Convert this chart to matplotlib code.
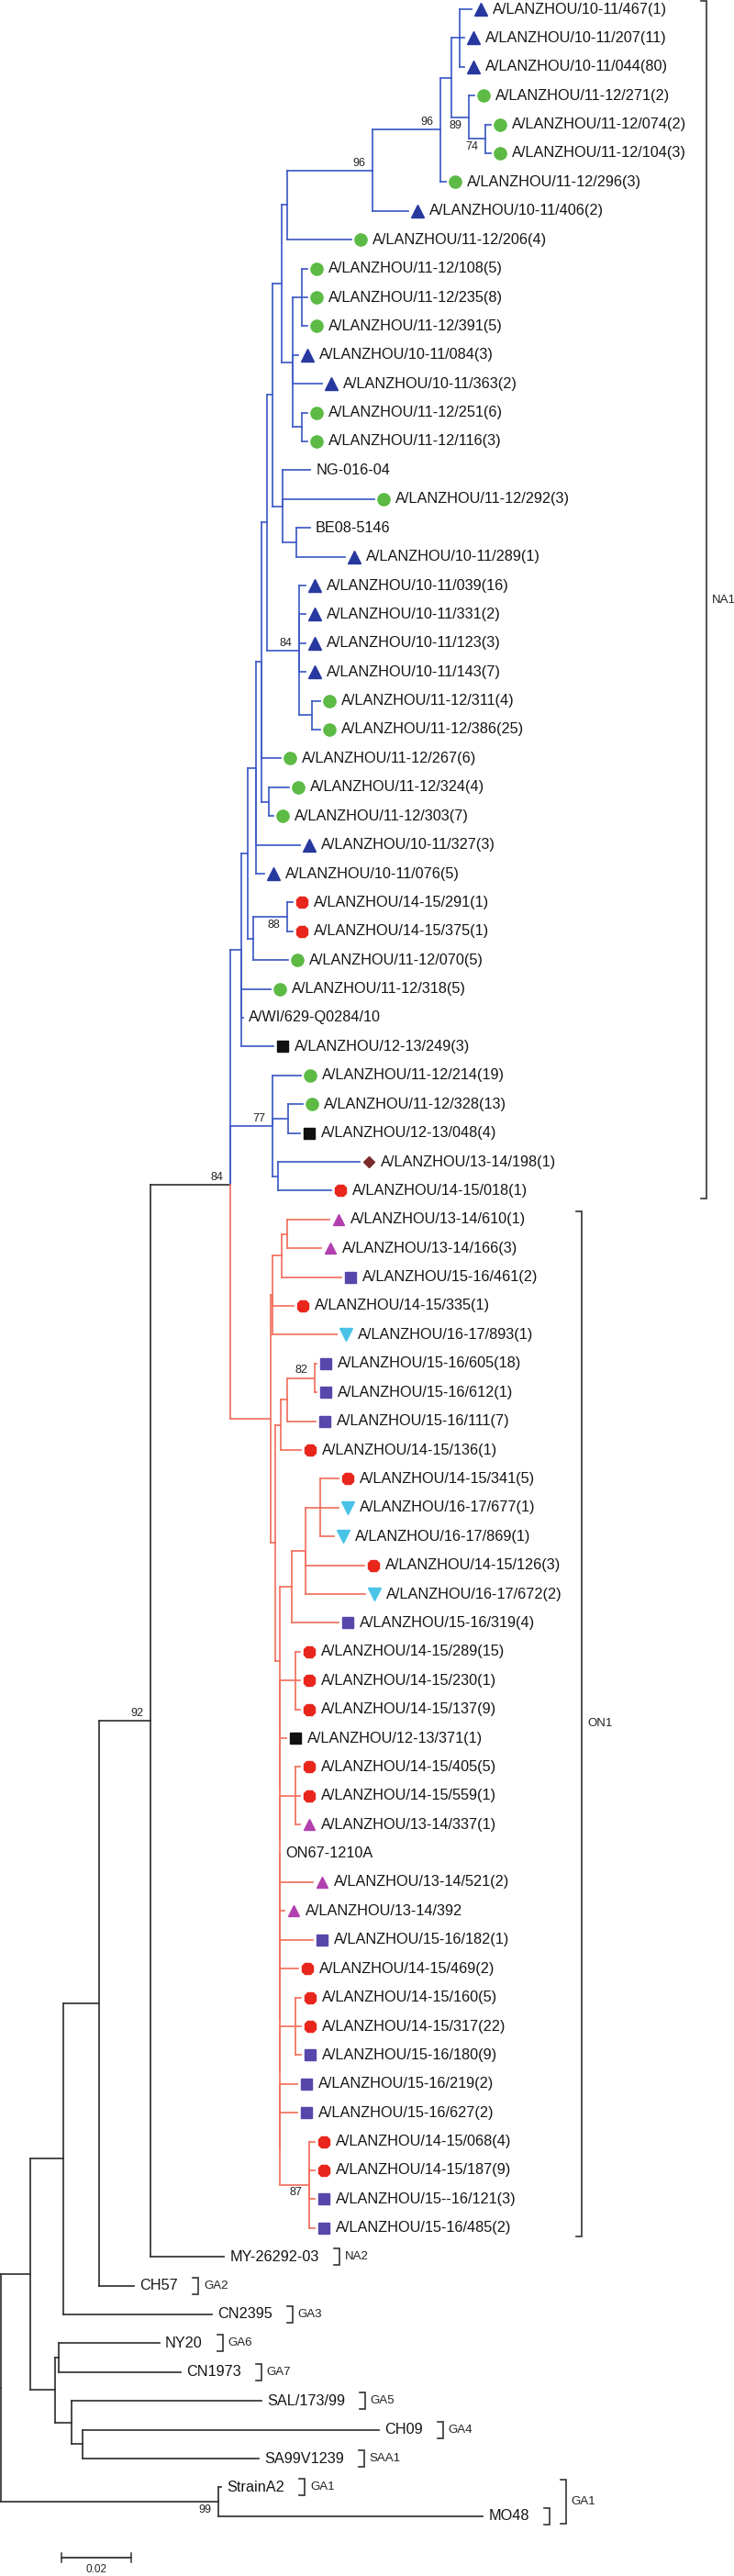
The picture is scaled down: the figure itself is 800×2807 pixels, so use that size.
import re
import matplotlib
matplotlib.use("Agg")
import matplotlib.pyplot as plt
from matplotlib import font_manager
from matplotlib.collections import LineCollection

# ------------------------------------------------------------------
# Tree (branch lengths in substitutions/site), leaves t1..t88 top->bottom
# ------------------------------------------------------------------
NA1_MAIN = (
    "((((((((((("
    "(t1:0.0034,t2:0.0013,t3:0.0013):0.0024,"
    "(t4:0.0016,(t5:0.0016,t6:0.0016)74:0.0047)89:0.0050):0.0032"
    ",t7:0.0016)96:0.0195"
    ",t8:0.0103)96:0.0245"
    ",t9:0.0184):0.0016,"
    "((t10:0.0016,t11:0.0016,t12:0.0016):0.0026,t13:0.0016,t14:0.0084,"
    "(t15:0.0016,t16:0.0016):0.0026):0.0032"
    "):0.0024,"
    "(t17:0.0079,t18:0.0263,(t19:0.0039,t20:0.0139):0.0039):0.0029"
    "):0.0016,"
    "(t21:0.0018,t22:0.0018,t23:0.0018,t24:0.0018,(t25:0.0024,t26:0.0024):0.0037)84:0.0092"
    "):0.0016"
    ",t27:0.0055,(t28:0.0058,t29:0.0013):0.0021):0.0016"
    ",t30:0.0126,t31:0.0024):0.0024,"
    "((t32:0.0016,t33:0.0016)88:0.0097,t34:0.0100):0.0016"
    "):0.0018"
    ",t35:0.0084,t36:0.0005,t37:0.0092):0.0032"
)
NA1_77 = "(t38:0.0082,(t39:0.0042,t40:0.0034):0.0045,(t41:0.0234,t42:0.0153):0.0016)77:0.0121"
ON1 = (
    "("
    "(((t43:0.0121,t44:0.0097):0.0016,t45:0.0171):0.0026,t46:0.0061,t47:0.0184):0.0005,"
    "("
    "(((t48:0.0005,t49:0.0005)82:0.0079,t50:0.0082):0.0018,t51:0.0058):0.0016,"
    "("
    "(((t52:0.0053,t53:0.0053,t54:0.0039):0.0042,t55:0.0168,t56:0.0171):0.0039,t57:0.0134):0.0034,"
    "((t58:0.0013,t59:0.0013,t60:0.0013):0.0045,"
    "(t61:0.0018,"
    "((t62:0.0013,t63:0.0013,t64:0.0013):0.0045,"
    "(t65:0,(t66:0.0095,(t67:0.0013,(t68:0.0095,(t69:0.0053,"
    "((t70:0.0016,t71:0.0016,t72:0.0016):0.0045,"
    "(t73:0.0050,(t74:0.0050,(t75:0.0016,t76:0.0016,t77:0.0016,t78:0.0016)87:0.0084):0):0"
    "):0):0):0):0):0):0"
    "):0"
    "):0"
    "):0"
    "):0.0013"
    "):0.0013"
    "):0.0116"
)
GA_OUT = "((t82:0.0289,t83:0.0350):0.0011,(t84:0.0545,(t85:0.0850,t86:0.0505):0.0032):0.0047):0.0071"
ROOT_OUT = "(t87:0.0008,t88:0.0758)99:0.0624"
BACKBONE = ("(((((({na1},{na1b},{on1})84:0.0229,t79:0.0211)92:0.0147,t80:0.0100):0.0103,"
            "t81:0.0426):0.0095,{ga}):0.0084,{out});")

LEAF_LABELS = [
    "A/LANZHOU/10-11/467(1)", "A/LANZHOU/10-11/207(11)", "A/LANZHOU/10-11/044(80)",
    "A/LANZHOU/11-12/271(2)", "A/LANZHOU/11-12/074(2)", "A/LANZHOU/11-12/104(3)",
    "A/LANZHOU/11-12/296(3)", "A/LANZHOU/10-11/406(2)", "A/LANZHOU/11-12/206(4)",
    "A/LANZHOU/11-12/108(5)", "A/LANZHOU/11-12/235(8)", "A/LANZHOU/11-12/391(5)",
    "A/LANZHOU/10-11/084(3)", "A/LANZHOU/10-11/363(2)", "A/LANZHOU/11-12/251(6)",
    "A/LANZHOU/11-12/116(3)", "NG-016-04", "A/LANZHOU/11-12/292(3)", "BE08-5146",
    "A/LANZHOU/10-11/289(1)", "A/LANZHOU/10-11/039(16)", "A/LANZHOU/10-11/331(2)",
    "A/LANZHOU/10-11/123(3)", "A/LANZHOU/10-11/143(7)", "A/LANZHOU/11-12/311(4)",
    "A/LANZHOU/11-12/386(25)", "A/LANZHOU/11-12/267(6)", "A/LANZHOU/11-12/324(4)",
    "A/LANZHOU/11-12/303(7)", "A/LANZHOU/10-11/327(3)", "A/LANZHOU/10-11/076(5)",
    "A/LANZHOU/14-15/291(1)", "A/LANZHOU/14-15/375(1)", "A/LANZHOU/11-12/070(5)",
    "A/LANZHOU/11-12/318(5)", "A/WI/629-Q0284/10", "A/LANZHOU/12-13/249(3)",
    "A/LANZHOU/11-12/214(19)", "A/LANZHOU/11-12/328(13)", "A/LANZHOU/12-13/048(4)",
    "A/LANZHOU/13-14/198(1)", "A/LANZHOU/14-15/018(1)",
    "A/LANZHOU/13-14/610(1)", "A/LANZHOU/13-14/166(3)", "A/LANZHOU/15-16/461(2)",
    "A/LANZHOU/14-15/335(1)", "A/LANZHOU/16-17/893(1)", "A/LANZHOU/15-16/605(18)",
    "A/LANZHOU/15-16/612(1)", "A/LANZHOU/15-16/111(7)", "A/LANZHOU/14-15/136(1)",
    "A/LANZHOU/14-15/341(5)", "A/LANZHOU/16-17/677(1)", "A/LANZHOU/16-17/869(1)",
    "A/LANZHOU/14-15/126(3)", "A/LANZHOU/16-17/672(2)", "A/LANZHOU/15-16/319(4)",
    "A/LANZHOU/14-15/289(15)", "A/LANZHOU/14-15/230(1)", "A/LANZHOU/14-15/137(9)",
    "A/LANZHOU/12-13/371(1)", "A/LANZHOU/14-15/405(5)", "A/LANZHOU/14-15/559(1)",
    "A/LANZHOU/13-14/337(1)", "ON67-1210A", "A/LANZHOU/13-14/521(2)",
    "A/LANZHOU/13-14/392", "A/LANZHOU/15-16/182(1)", "A/LANZHOU/14-15/469(2)",
    "A/LANZHOU/14-15/160(5)", "A/LANZHOU/14-15/317(22)", "A/LANZHOU/15-16/180(9)",
    "A/LANZHOU/15-16/219(2)", "A/LANZHOU/15-16/627(2)", "A/LANZHOU/14-15/068(4)",
    "A/LANZHOU/14-15/187(9)", "A/LANZHOU/15--16/121(3)", "A/LANZHOU/15-16/485(2)",
    "MY-26292-03", "CH57", "CN2395", "NY20", "CN1973", "SAL/173/99", "CH09",
    "SA99V1239", "StrainA2", "MO48",
]
# season symbol per leaf (- = reference strain, no symbol)
LEAF_SEASON = "TTTCCCCTCCCCTTCC-C-TTTTTCCCCCTTRRCC-SCCSDRMMPRVPPPRRVVRVPRRRSRRM-MMPRRRPPPRRPP----------"

GENOTYPE_TAGS = {79: "NA2", 80: "GA2", 81: "GA3", 82: "GA6", 83: "GA7",
                 84: "GA5", 85: "GA4", 86: "SAA1", 87: "GA1", 88: ""}
CLADES = [("NA1", 1, 42), ("ON1", 43, 78)]
OUTER_GROUP = ("GA1", 87, 88)
BOOT_BELOW = [89, 74, 88, 87, 99]
SCALE_VALUE = 0.02

SEASON_STYLE = {
    "T": ("^", "#27389e", 9.5),
    "C": ("o", "#5cba45", 9.5),
    "S": ("s", "#111111", 8.0),
    "M": ("^", "#b23fae", 8.5),
    "D": ("D", "#7b2b2b", 6.5),
    "R": ("8", "#e8261c", 10.0),
    "P": ("s", "#5847ab", 8.0),
    "V": ("v", "#4ac3e6", 9.5),
}
CLADE_COLOR = {"NA1": "#3f5cc6", "ON1": "#f2725f", None: "#333333"}

PX_PER_UNIT = 3800.0   # 0.02 subs = 76 px
ROW_PX = 31.4
W, H = 800, 2807

names = set(f.name for f in font_manager.fontManager.ttflist)
plt.rcParams["font.family"] = ["Liberation Sans", "DejaVu Sans"]
NARROW = "Liberation Sans Narrow" if "Liberation Sans Narrow" in names else "Liberation Sans"


def parse_newick(s):
    pos = 0

    def node():
        nonlocal pos
        n = {"children": [], "name": "", "bl": 0.0}
        if s[pos] == "(":
            pos += 1
            n["children"].append(node())
            while s[pos] == ",":
                pos += 1
                n["children"].append(node())
            pos += 1
        m = re.match(r"[^:,();]*", s[pos:])
        n["name"] = m.group(0)
        pos += len(n["name"])
        if s[pos] == ":":
            m = re.match(r":([0-9.eE-]+)", s[pos:])
            n["bl"] = float(m.group(1))
            pos += len(m.group(0))
        return n

    return node()


tree = parse_newick(BACKBONE.format(na1=NA1_MAIN, na1b=NA1_77, on1=ON1, ga=GA_OUT, out=ROOT_OUT))
tree["bl"] = 0.0

leaves = []


def layout(n, x0):
    n["x"] = x0 + n["bl"]
    if not n["children"]:
        n["y"] = len(leaves)
        n["idx"] = int(n["name"][1:])
        n["leafset"] = {n["idx"]}
        leaves.append(n)
        return
    for c in n["children"]:
        layout(c, n["x"])
    n["y"] = 0.5 * (n["children"][0]["y"] + n["children"][-1]["y"])
    n["leafset"] = set().union(*[c["leafset"] for c in n["children"]])


layout(tree, 0.0)
assert len(leaves) == 88 and len(LEAF_SEASON) == 88


def clade_of(n):
    for name, a, b in CLADES:
        if all(a <= i <= b for i in n["leafset"]):
            return name
    return None


def dx(px):
    return px / PX_PER_UNIT


def dy(px):
    return px / ROW_PX


fig = plt.figure(figsize=(W / 100, H / 100), dpi=100)
ax = fig.add_axes([0, 0, 1, 1])
ax.set_xlim(-dx(1), dx(W - 1))
ax.set_ylim(dy(H - 10), -dy(10))
ax.axis("off")

segs = {}
boots = []


def collect(n):
    for c in n["children"]:
        col = CLADE_COLOR[clade_of(c)]
        segs.setdefault(col, []).append([(n["x"], n["y"]), (n["x"], c["y"])])
        segs[col].append([(n["x"], c["y"]), (c["x"], c["y"])])
        collect(c)
    if n["children"] and n["name"]:
        boots.append(n)


collect(tree)
for col, ss in segs.items():
    ax.add_collection(LineCollection(ss, colors=col, linewidths=1.25, capstyle="projecting"))

for n in boots:
    v = int(n["name"])
    below = v in BOOT_BELOW
    ax.annotate(str(v), (n["x"], n["y"]), xytext=(-5.5, -2.0 if below else 1.5),
                textcoords="offset points", ha="right", va="top" if below else "bottom",
                fontsize=9, color="#222222", family=NARROW)

label_texts = {}
for lf in leaves:
    code = LEAF_SEASON[lf["idx"] - 1]
    if code != "-":
        mk, col, ms = SEASON_STYLE[code]
        ax.plot(lf["x"] + dx(10), lf["y"], marker=mk, ms=ms, color=col, mec=col,
                linestyle="none")
        lx = lf["x"] + dx(23)
    else:
        lx = lf["x"] + dx(6)
    label_texts[lf["idx"]] = ax.text(lx, lf["y"], LEAF_LABELS[lf["idx"] - 1], ha="left",
                                     va="center", fontsize=11.7, color="#151515")

renderer = fig.canvas.get_renderer()
inv = ax.transData.inverted()


def label_end(i):
    bb = label_texts[i].get_window_extent(renderer)
    return inv.transform((bb.x1, bb.y0))[0]


def bracket(x, y0, y1, lw=1.2):
    ax.plot([x - dx(6), x, x, x - dx(6)], [y0, y0, y1, y1], color="#333333", lw=lw,
            solid_joinstyle="miter")


for name, a, b in CLADES:
    bx = max(label_end(i) for i in range(a, b + 1)) + dx(22)
    y0, y1 = a - 1 - dy(9), b - 1 + dy(9)
    bracket(bx, y0, y1)
    ax.text(bx + dx(6), 0.5 * (y0 + y1), name, ha="left", va="center", fontsize=9.5,
            family=NARROW, color="#222222")

tag_x = {}
for i, tag in GENOTYPE_TAGS.items():
    bx = label_end(i) + dx(22)
    tag_x[i] = bx
    bracket(bx, i - 1 - dy(9), i - 1 + dy(9))
    if tag:
        ax.text(bx + dx(6), i - 1, tag, ha="left", va="center", fontsize=9.5,
                family=NARROW, color="#222222")

gname, ga, gb = OUTER_GROUP
gx = max(tag_x[ga], tag_x[gb]) + dx(18)
bracket(gx, ga - 1 - dy(8), gb - 1 + dy(8))
ax.text(gx + dx(6), 0.5 * (ga + gb) - 1, gname, ha="left", va="center", fontsize=9.5,
        family=NARROW, color="#222222")

# scale bar
sx, sy = dx(66), dy(2787 - 10)
ax.plot([sx, sx + SCALE_VALUE], [sy, sy], color="#333333", lw=1.3)
for xx in (sx, sx + SCALE_VALUE):
    ax.plot([xx, xx], [sy - dy(5), sy + dy(5)], color="#333333", lw=1.1)
ax.text(sx + SCALE_VALUE / 2, sy + dy(7), f"{SCALE_VALUE:.2f}", ha="center", va="top",
        fontsize=8.5, family=NARROW, color="#222222")

fig.savefig("out.png", dpi=100)
